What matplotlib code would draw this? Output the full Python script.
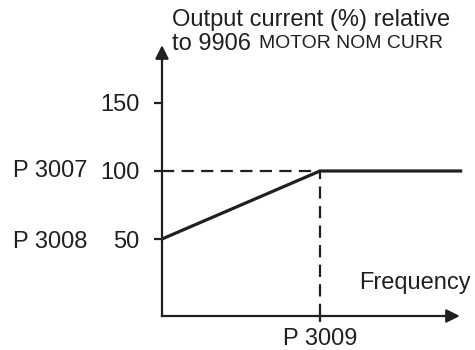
import matplotlib

matplotlib.use("Agg")

import matplotlib.pyplot as plt


# Characteristic curve: output current limit vs frequency
FREQUENCY = [0.0, 1.0, 1.9]
CURRENT = [50, 100, 100]

Y_TICKS = [50, 100, 150]
X_TICKS = [1.0]
X_TICK_LABELS = ["P 3009"]

PARAM_LABELS = ["P 3007", "P 3008"]
PARAM_VALUES = [100, 48]

TITLE_LINE_1 = "Output current (%) relative"
TITLE_LINE_2 = "to 9906"
TITLE_SMALLCAPS = "MOTOR NOM CURR"
X_LABEL = "Frequency"

INK = "#231f20"
FONT = "Liberation Sans"
FONT_SIZE = 17

X_AXIS_LEVEL = -6.6
X_ARROW_END = 1.885
Y_ARROW_END = 192.5


def draw_axes_frame(ax) -> None:
    """
    Place the spines at the origin and add arrow heads.
    """

    for side in ["top", "right"]:
        ax.spines[side].set_visible(False)

    ax.spines["left"].set_position(("data", 0))
    ax.spines["bottom"].set_position(("data", X_AXIS_LEVEL))
    ax.spines["left"].set_bounds(X_AXIS_LEVEL, Y_ARROW_END - 10)
    ax.spines["bottom"].set_bounds(0, X_ARROW_END - 0.05)

    for side in ["left", "bottom"]:
        ax.spines[side].set_color(INK)
        ax.spines[side].set_linewidth(1.6)

    arrow = dict(arrowstyle="-|>", color=INK, lw=1.6, mutation_scale=20,
                 shrinkA=0, shrinkB=0)
    ax.annotate("", xy=(0, Y_ARROW_END), xytext=(0, Y_ARROW_END - 12),
                arrowprops=arrow)
    ax.annotate("", xy=(X_ARROW_END, X_AXIS_LEVEL),
                xytext=(X_ARROW_END - 0.08, X_AXIS_LEVEL), arrowprops=arrow)

    ax.set_yticks(Y_TICKS)
    ax.set_yticklabels([str(v) for v in Y_TICKS])
    ax.set_xticks(X_TICKS)
    ax.set_xticklabels(X_TICK_LABELS)

    ax.tick_params(axis="y", direction="out", length=6, width=1.6,
                   color=INK, pad=10, labelsize=FONT_SIZE, labelcolor=INK)
    ax.tick_params(axis="x", direction="out", length=4.5, width=1.6,
                   color=INK, pad=4, labelsize=FONT_SIZE, labelcolor=INK)


def main() -> None:
    plt.rcParams["font.family"] = [FONT, "DejaVu Sans"]

    fig = plt.figure(figsize=(4.75, 3.5), dpi=100)
    ax = fig.add_axes([0, 0, 1, 1])
    ax.set_xlim(-1.0253, 1.981)
    ax.set_ylim(-31.6, 225.7)
    ax.patch.set_visible(False)

    draw_axes_frame(ax)

    dash = (5.5, 3.3)
    ax.plot([0, FREQUENCY[1]], [CURRENT[1], CURRENT[1]], color=INK,
            lw=1.6, dashes=dash)
    ax.plot([FREQUENCY[1], FREQUENCY[1]], [X_AXIS_LEVEL, CURRENT[1]],
            color=INK, lw=1.6, dashes=dash)

    ax.plot(FREQUENCY, CURRENT, color=INK, lw=2.3, solid_capstyle="butt",
            clip_on=False)

    for label, value in zip(PARAM_LABELS, PARAM_VALUES):
        ax.text(-0.945, value, label, ha="left", va="center",
                fontsize=FONT_SIZE, color=INK)

    ax.text(0.063, 211, TITLE_LINE_1, ha="left", va="center",
            fontsize=FONT_SIZE, color=INK)
    ax.text(0.063, 193.5, TITLE_LINE_2, ha="left", va="center",
            fontsize=FONT_SIZE, color=INK)
    ax.text(0.615, 193.5, TITLE_SMALLCAPS, ha="left", va="center",
            fontsize=FONT_SIZE * 0.82, color=INK)

    ax.text(1.245, 17.6, X_LABEL, ha="left", va="center",
            fontsize=FONT_SIZE, color=INK)

    fig.savefig("out.png", dpi=100, facecolor="white")
    plt.close(fig)


if __name__ == "__main__":
    main()
